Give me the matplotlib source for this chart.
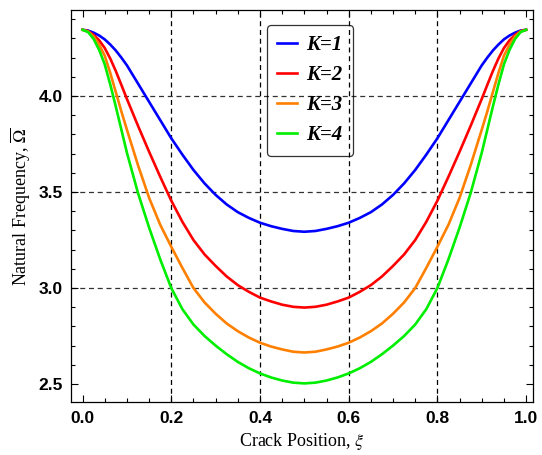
import matplotlib.pyplot as plt
from matplotlib.ticker import MultipleLocator

# crack position and natural frequency
xi = [0.0, 0.0125, 0.025, 0.0375, 0.05, 0.0625, 0.075, 0.0875, 0.1,
      0.125, 0.15, 0.175, 0.2, 0.225, 0.25, 0.275, 0.3, 0.325, 0.35,
      0.375, 0.4, 0.425, 0.45, 0.475, 0.5, 0.525, 0.55, 0.575, 0.6,
      0.625, 0.65, 0.675, 0.7, 0.725, 0.75, 0.775, 0.8, 0.825, 0.85,
      0.875, 0.9, 0.9125, 0.925, 0.9375, 0.95, 0.9625, 0.975, 0.9875, 1.0]

k1 = [4.345, 4.341, 4.33, 4.315, 4.295, 4.268, 4.237, 4.20, 4.16,
      4.065, 3.97, 3.875, 3.78, 3.695, 3.615, 3.545, 3.485, 3.435, 3.395,
      3.365, 3.34, 3.322, 3.308, 3.297, 3.293, 3.297, 3.308, 3.322, 3.34,
      3.365, 3.395, 3.435, 3.485, 3.545, 3.615, 3.695, 3.78, 3.875, 3.97,
      4.065, 4.16, 4.20, 4.237, 4.268, 4.295, 4.315, 4.33, 4.341, 4.345]

k2 = [4.345, 4.338, 4.318, 4.29, 4.25, 4.195, 4.13, 4.058, 3.985,
      3.845, 3.71, 3.58, 3.455, 3.345, 3.25, 3.175, 3.115, 3.06, 3.015,
      2.98, 2.95, 2.93, 2.913, 2.902, 2.898, 2.902, 2.913, 2.93, 2.95,
      2.98, 3.015, 3.06, 3.115, 3.175, 3.25, 3.345, 3.455, 3.58, 3.71,
      3.845, 3.985, 4.058, 4.13, 4.195, 4.25, 4.29, 4.318, 4.338, 4.345]

k3 = [4.345, 4.336, 4.31, 4.267, 4.21, 4.12, 4.02, 3.92, 3.825,
      3.64, 3.47, 3.33, 3.215, 3.105, 3.0, 2.925, 2.866, 2.815, 2.775,
      2.742, 2.715, 2.695, 2.68, 2.668, 2.664, 2.668, 2.68, 2.695, 2.715,
      2.742, 2.775, 2.815, 2.866, 2.925, 3.0, 3.105, 3.215, 3.33, 3.47,
      3.64, 3.825, 3.92, 4.02, 4.12, 4.21, 4.267, 4.31, 4.336, 4.345]

k4 = [4.345, 4.333, 4.297, 4.24, 4.165, 4.06, 3.945, 3.825, 3.705,
      3.495, 3.315, 3.15, 3.0, 2.89, 2.81, 2.75, 2.70, 2.655, 2.615,
      2.582, 2.555, 2.534, 2.518, 2.507, 2.503, 2.507, 2.518, 2.534, 2.555,
      2.582, 2.615, 2.655, 2.70, 2.75, 2.81, 2.89, 3.0, 3.15, 3.315,
      3.495, 3.705, 3.825, 3.945, 4.06, 4.165, 4.24, 4.297, 4.333, 4.345]

labels = ['K=1', 'K=2', 'K=3', 'K=4']
colors = ['#0000ff', '#ff0000', '#ff8000', '#00ee00']

plt.rcParams['mathtext.fontset'] = 'stix'

fig = plt.figure(figsize=(5.42, 4.55), dpi=100)
ax = fig.add_axes([0.131, 0.116, 0.852, 0.862])

for ys, lab, c in zip([k1, k2, k3, k4], labels, colors):
    ax.plot(xi, ys, color=c, lw=1.9, label=lab, solid_joinstyle='round')

# grid lines only where the original has them
for gx in [0.2, 0.4, 0.6, 0.8]:
    ax.axvline(gx, color='black', lw=0.9, ls=(0, (4, 3)), zorder=0)
for gy in [3.0, 3.5, 4.0]:
    ax.axhline(gy, color='#333333', lw=0.9, ls=(0, (4, 3)), zorder=0)

ax.set_xlim(-0.026, 1.015)
ax.set_ylim(2.405, 4.448)
ax.xaxis.set_major_locator(MultipleLocator(0.2))
ax.xaxis.set_minor_locator(MultipleLocator(0.05))
ax.yaxis.set_major_locator(MultipleLocator(0.5))
ax.yaxis.set_minor_locator(MultipleLocator(0.1))
ax.tick_params(which='both', direction='in', top=True, right=True, width=0.8)
ax.tick_params(which='major', length=5, labelsize=12.5, pad=6)
ax.tick_params(which='minor', length=3)
for t in ax.get_xticklabels() + ax.get_yticklabels():
    t.set_fontfamily('Liberation Sans')
    t.set_fontweight('bold')
for s in ax.spines.values():
    s.set_linewidth(0.9)

ax.set_xlabel(r'Crack Position, $\xi$', fontfamily='Liberation Serif', fontsize=13)
ax.set_ylabel(r'Natural Frequency, $\overline{\Omega}$', fontfamily='Liberation Serif', fontsize=13)

leg = ax.legend(loc='upper center', bbox_to_anchor=(0.517, 0.962), frameon=True,
                handlelength=0.95, handletextpad=0.45, labelspacing=0.48,
                borderpad=0.5, borderaxespad=0, fancybox=True,
                prop={'family': 'Liberation Serif', 'weight': 'bold',
                      'style': 'italic', 'size': 15})
leg.get_frame().set_facecolor('none')
leg.get_frame().set_edgecolor('black')
leg.get_frame().set_linewidth(0.9)

fig.savefig('out.png', dpi=100)
